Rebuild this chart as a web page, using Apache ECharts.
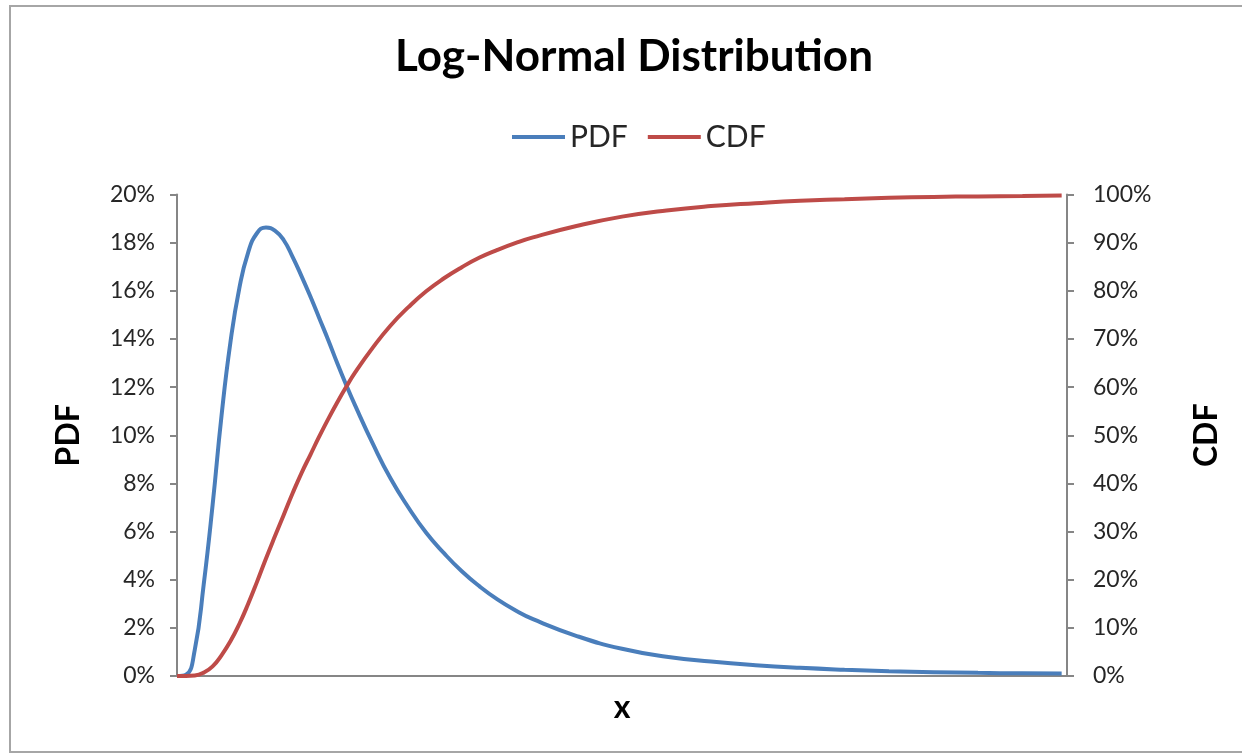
<!DOCTYPE html>
<html>
<head>
<meta charset="utf-8">
<title>Log-Normal Distribution</title>
<script src="https://cdn.jsdelivr.net/npm/echarts@6/dist/echarts.min.js"></script>
<style>
  html, body { margin: 0; padding: 0; background: #ffffff; }
  #chart { width: 1242px; height: 755px; }
</style>
</head>
<body>
<div id="chart"></div>
<script>
// Sample positions along x (arbitrary units, axis runs 0..100)
const xValues = [0, 1, 2, 3, 4, 5, 6, 7, 8, 9, 10, 11, 12, 13, 14, 15, 16, 17, 18, 19, 20,
  22, 24, 26, 28, 30, 32, 34, 36, 38, 40, 45, 50, 55, 60, 65, 70, 75, 80, 85, 90, 95, 99.4];

// Probability density (%)
const pdfValues = [0, 0.05, 1.1, 3.8, 7.1, 10.8, 13.85, 16.1, 17.6, 18.4, 18.63, 18.5, 18.1, 17.4, 16.6,
  15.75, 14.85, 13.95, 13.0, 12.1, 11.25,
  9.65, 8.2, 7.0, 5.95, 5.1, 4.35, 3.72, 3.18, 2.73, 2.36, 1.65, 1.13, 0.8, 0.6, 0.45, 0.34,
  0.26, 0.2, 0.16, 0.13, 0.11, 0.1];

// Cumulative distribution (%)
const cdfValues = [0, 0, 0.1, 0.7, 2.0, 4.3, 7.2, 10.8, 15.0, 19.6, 24.4, 29.0, 33.5, 38.0, 42.2,
  46.0, 49.8, 53.4, 56.8, 60.0, 63.0,
  68.2, 72.8, 76.6, 79.9, 82.6, 84.9, 86.9, 88.5, 89.9, 91.1, 93.5, 95.4, 96.7, 97.6, 98.2, 98.7,
  99.0, 99.3, 99.5, 99.6, 99.7, 99.8];

const seriesNames = ['PDF', 'CDF'];
const seriesColors = ['#4a7ebb', '#be4b48'];

const pdfPoints = xValues.map((x, i) => [x, pdfValues[i] / 100]);
const cdfPoints = xValues.map((x, i) => [x, cdfValues[i] / 100]);

const pct = v => Math.round(v * 100) + '%';
const labelFont = 'Lato, "Open Sans", sans-serif';
const axisGray = '#868686';

const chart = echarts.init(document.getElementById('chart'), null, { renderer: 'canvas' });

chart.setOption({
  backgroundColor: '#ffffff',
  animation: false,
  graphic: [{
    type: 'rect',
    shape: { x: 10, y: 6, width: 1260, height: 746 },
    style: { fill: 'none', stroke: '#a6a6a6', lineWidth: 2 },
    silent: true
  }],
  title: {
    text: 'Log-Normal Distribution',
    left: 629,
    top: 30,
    textAlign: 'center',
    textStyle: { fontFamily: labelFont, fontWeight: 'bold', fontSize: 44, color: '#000000' }
  },
  legend: {
    data: seriesNames,
    left: 507,
    top: 117,
    itemWidth: 53,
    itemHeight: 4,
    itemGap: 20,
    icon: 'rect',
    textStyle: { fontFamily: labelFont, fontSize: 30, color: '#262626' }
  },
  grid: { left: 177, right: 175, top: 194.5, bottom: 79, containLabel: false },
  xAxis: {
    type: 'value',
    min: 0,
    max: 100,
    name: 'x',
    nameLocation: 'middle',
    nameGap: 16,
    nameTextStyle: { fontFamily: labelFont, fontWeight: 'bold', fontSize: 32, color: '#000000' },
    axisLine: { show: true, onZero: false, lineStyle: { color: axisGray, width: 2 } },
    axisTick: { show: false },
    axisLabel: { show: false },
    splitLine: { show: false }
  },
  yAxis: [{
    type: 'value',
    position: 'left',
    min: 0,
    max: 0.2,
    interval: 0.02,
    name: 'PDF',
    nameLocation: 'middle',
    nameRotate: 90,
    nameGap: 92,
    nameTextStyle: { fontFamily: labelFont, fontWeight: 'bold', fontSize: 32, color: '#000000' },
    axisLine: { show: true, lineStyle: { color: axisGray, width: 2 } },
    axisTick: { show: true, inside: false, length: 7, lineStyle: { color: axisGray, width: 2 } },
    axisLabel: { formatter: pct, margin: 22, fontFamily: labelFont, fontSize: 23, color: '#262626' },
    splitLine: { show: false }
  }, {
    type: 'value',
    position: 'right',
    min: 0,
    max: 1,
    interval: 0.1,
    name: 'CDF',
    nameLocation: 'middle',
    nameRotate: 90,
    nameGap: 124,
    nameTextStyle: { fontFamily: labelFont, fontWeight: 'bold', fontSize: 32, color: '#000000' },
    axisLine: { show: true, lineStyle: { color: axisGray, width: 2 } },
    axisTick: { show: true, inside: false, length: 7, lineStyle: { color: axisGray, width: 2 } },
    axisLabel: { formatter: pct, margin: 26, fontFamily: labelFont, fontSize: 23, color: '#262626' },
    splitLine: { show: false }
  }],
  series: [{
    name: seriesNames[0],
    type: 'line',
    yAxisIndex: 0,
    data: pdfPoints,
    showSymbol: false,
    smooth: 0.5,
    lineStyle: { width: 4, color: seriesColors[0] },
    itemStyle: { color: seriesColors[0] }
  }, {
    name: seriesNames[1],
    type: 'line',
    yAxisIndex: 1,
    data: cdfPoints,
    showSymbol: false,
    smooth: 0.5,
    lineStyle: { width: 4, color: seriesColors[1] },
    itemStyle: { color: seriesColors[1] }
  }]
});
</script>
</body>
</html>
